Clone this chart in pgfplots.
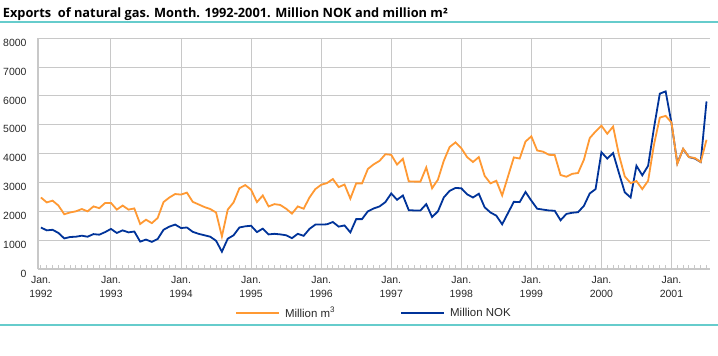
\documentclass[border=0pt]{standalone}
\usepackage{pgfplots}
\pgfplotsset{compat=1.18}
\usepackage{pgfplotstable}
\usepackage{fontspec}
\setmainfont{Liberation Sans}
\newfontfamily\titlefont{Open Sans}
\definecolor{serorange}{RGB}{255,153,51}
\definecolor{serblue}{RGB}{0,51,153}
\definecolor{gridgrey}{RGB}{200,200,200}
\definecolor{rule}{RGB}{102,204,204}
\definecolor{labgrey}{RGB}{40,40,40}
\pgfplotsset{sslegline/.style={legend image code/.code={\draw[##1] (0bp,0bp) -- (43bp,0bp);}}}

\pgfplotstableread{
i m3 nok
0 2480 1440
1 2310 1340
2 2370 1360
3 2200 1250
4 1900 1060
5 1960 1110
6 2000 1120
7 2080 1155
8 2000 1120
9 2170 1210
10 2110 1190
11 2290 1280
12 2290 1390
13 2060 1250
14 2200 1340
15 2060 1270
16 2100 1300
17 1560 950
18 1710 1020
19 1590 940
20 1770 1040
21 2320 1360
22 2480 1470
23 2600 1540
24 2580 1420
25 2650 1440
26 2330 1290
27 2240 1220
28 2150 1170
29 2080 1120
30 1960 980
31 1130 600
32 2060 1050
33 2310 1170
34 2800 1440
35 2910 1480
36 2750 1500
37 2320 1280
38 2550 1400
39 2170 1200
40 2250 1220
41 2220 1200
42 2090 1170
43 1920 1070
44 2170 1220
45 2090 1150
46 2480 1390
47 2770 1540
48 2920 1540
49 2980 1550
50 3120 1630
51 2840 1470
52 2930 1510
53 2440 1270
54 2970 1730
55 2970 1730
56 3470 2000
57 3630 2100
58 3750 2170
59 3980 2320
60 3960 2620
61 3620 2400
62 3820 2550
63 3040 2040
64 3030 2030
65 3030 2030
66 3520 2250
67 2800 1800
68 3100 2000
69 3750 2480
70 4230 2710
71 4390 2810
72 4190 2800
73 3880 2590
74 3710 2480
75 3880 2610
76 3230 2140
77 2970 1960
78 3060 1850
79 2550 1550
80 3210 1940
81 3870 2330
82 3830 2320
83 4420 2670
84 4600 2370
85 4110 2090
86 4070 2060
87 3960 2030
88 3950 2020
89 3260 1690
90 3200 1910
91 3300 1950
92 3330 1970
93 3790 2190
94 4540 2620
95 4770 2770
96 4970 4050
97 4690 3830
98 4940 4020
99 3960 3330
100 3210 2660
101 2980 2480
102 3050 3580
103 2770 3250
104 3060 3580
105 4310 4890
106 5250 6080
107 5310 6160
108 5080 5060
109 3650 3670
110 4170 4160
111 3880 3880
112 3850 3830
113 3710 3710
114 4480 5810
}\gasdata

\begin{document}
\begin{tikzpicture}[x=1bp,y=1bp]
\path[use as bounding box] (0,0) rectangle (718,355);
\node[anchor=base west, inner sep=0pt, text=black] at (2.7,337.7) {\resizebox{445bp}{!}{\titlefont\fontsize{11}{13}\selectfont\bfseries Exports\ \ of natural gas. Month. 1992-2001. Million NOK and million m²}};
\draw[rule, line width=2.2bp] (0,333.3) -- (718,333.3);
\draw[rule, line width=2.2bp] (0,30) -- (718,30);
\begin{axis}[
  at={(37.7bp,86bp)}, anchor=south west,
  scale only axis, width=672.3bp, height=230.7bp,
  xmin=-0.55, xmax=114.6, ymin=0, ymax=8000,
  axis x line*=bottom, axis y line*=left,
  axis line style={-, gridgrey, line width=1.2bp},
  every outer y axis line/.append style={line width=2bp},
  xtick={0,12,...,108},
  xticklabels={{Jan.\\1992},{Jan.\\1993},{Jan.\\1994},{Jan.\\1995},{Jan.\\1996},{Jan.\\1997},{Jan.\\1998},{Jan.\\1999},{Jan.\\2000},{Jan.\\2001}},
  extra x ticks={12,24,...,108}, extra x tick labels={},
  extra x tick style={grid=major, major tick length=0bp},
  minor xtick={0,...,114},
  ytick={0,1000,...,8000},
  ymajorgrids,
  major grid style={gridgrey, line width=1bp},
  major tick length=0bp, minor tick length=4.5bp,
  tick align=inside,
  minor tick style={gridgrey, line width=1bp},
  xtick pos=left, ytick pos=left,
  /pgf/number format/1000 sep={},
  /pgf/number format/assume math mode=true,
  xticklabel style={align=center, font=\fontsize{10.5}{14}\selectfont, text=labgrey, inner sep=0pt, yshift=-7bp},
  yticklabel style={font=\fontsize{10.5}{12}\selectfont, text=labgrey, inner sep=0pt, xshift=-11bp, yshift=-4.5bp},
  legend columns=2,
  legend style={draw=none, fill=none, at={(axis description cs:0.2935,-0.1907)}, anchor=west, inner sep=0pt, outer sep=0pt,
    font=\fontsize{11.5}{13}\selectfont, text=labgrey, nodes={inner sep=0pt},
    /tikz/every odd column/.append style={column sep=5bp},
    /tikz/every even column/.append style={column sep=65bp}},
  legend cell align=left,
  sslegline,
]
\addlegendimage{serorange, line width=2bp}
\addlegendentry{Million m\textsuperscript{3}}
\addlegendimage{serblue, line width=2bp}
\addlegendentry{Million NOK}
\addplot[serblue, line width=1.8bp, forget plot] table[x=i, y=nok] {\gasdata};
\addplot[serorange, line width=1.8bp, forget plot] table[x=i, y=m3] {\gasdata};
\end{axis}
\end{tikzpicture}
\end{document}
